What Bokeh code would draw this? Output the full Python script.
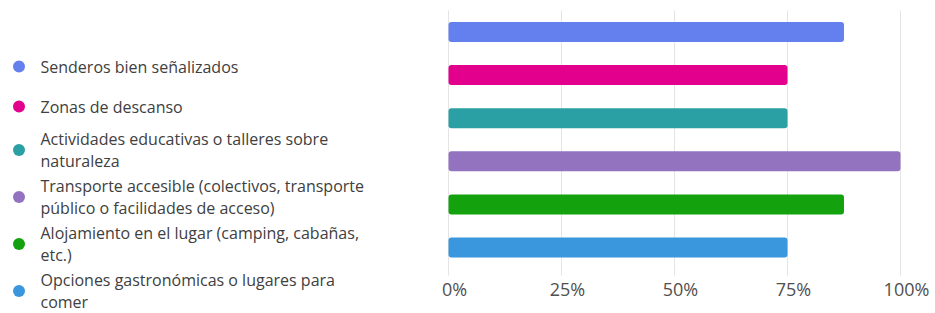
from bokeh.plotting import figure
from bokeh.models import Range1d, ColumnDataSource
from bokeh.layouts import row
from bokeh.core.properties import value
from bokeh.embed import file_html
from bokeh.resources import INLINE

# ---- data ----
categories = [
    "Senderos bien señalizados",
    "Zonas de descanso",
    "Actividades educativas o talleres sobre\nnaturaleza",
    "Transporte accesible (colectivos, transporte\npúblico o facilidades de acceso)",
    "Alojamiento en el lugar (camping, cabañas,\netc.)",
    "Opciones gastronómicas o lugares para\ncomer",
]
values = [87.5, 75, 75, 100, 87.5, 75]
colors = ["#6480ee", "#e3008c", "#2aa0a4", "#9373c0", "#13a10e", "#3a96dd"]
tick_values = [0, 25, 50, 75, 100]
tick_labels = ["0%", "25%", "50%", "75%", "100%"]

FONT = "Open Sans"
TEXT_COLOR = "#404040"
H = 313

# ---- legend panel (left) ----
LW = 438
n_lines = [c.count("\n") + 1 for c in categories]
row_h = [40 if n == 1 else 47 for n in n_lines]
centers = [66.0]
for i in range(1, len(categories)):
    centers.append(centers[-1] + (row_h[i - 1] + row_h[i]) / 2)

leg = figure(width=LW, height=H, output_backend="svg", toolbar_location=None,
             x_range=Range1d(0, LW), y_range=Range1d(H, 0), title=None,
             x_axis_location=None, y_axis_location=None,
             min_border=0, min_border_left=0, min_border_right=0,
             min_border_top=0, min_border_bottom=0)
leg.grid.visible = False
leg.outline_line_color = None

lsrc = ColumnDataSource(dict(x=[18.5] * len(categories), tx=[40] * len(categories),
                             y=centers, label=categories, color=colors))
leg.scatter("x", "y", source=lsrc, size=12, color="color", line_color=None)
leg.text("tx", "y", text="label", source=lsrc, text_font=value(FONT),
         text_font_size="16px", text_color=TEXT_COLOR, text_baseline="middle",
         text_align="left", text_line_height=0.96)

# ---- bar chart (right) ----
RW = 497
n = len(values)
px_per_unit_y = 43.1          # pixels between bar rows
y_top = -0.731                # half-step margin above first bar (plus padding)
y_bot = y_top + H / px_per_unit_y
px_per_pct = 4.52
x_start = -10 / px_per_pct
x_end = x_start + RW / px_per_pct

p = figure(width=RW, height=H, output_backend="svg", toolbar_location=None,
           x_range=Range1d(x_start, x_end), y_range=Range1d(y_bot, y_top), title=None,
           x_axis_location=None, y_axis_location=None,
           min_border=0, min_border_left=0, min_border_right=0,
           min_border_top=0, min_border_bottom=0)
p.outline_line_color = None
p.grid.visible = False

# grid lines (value axis) spanning the category band
grid_top = -0.5
grid_bot = n - 0.35
gsrc = ColumnDataSource(dict(x=tick_values, y0=[grid_top] * len(tick_values),
                             y1=[grid_bot] * len(tick_values), label=tick_labels,
                             ly=[n - 0.03] * len(tick_values)))
p.segment(x0="x", y0="y0", x1="x", y1="y1", source=gsrc,
          line_color="#e4e4e4", line_width=1)

bsrc = ColumnDataSource(dict(y=list(range(n)), right=values, color=colors))
p.hbar(y="y", left=0, right="right", height=0.464, source=bsrc,
       fill_color="color", line_color=None, border_radius=3)

# tick labels
p.text(x="x", y="ly", text="label", source=gsrc, text_font=value(FONT),
       text_font_size="18px", text_color="#505050", text_align="center",
       text_baseline="middle", x_offset=6)

layout = row(leg, p)
open("out.html", "w").write(file_html(layout, INLINE))
